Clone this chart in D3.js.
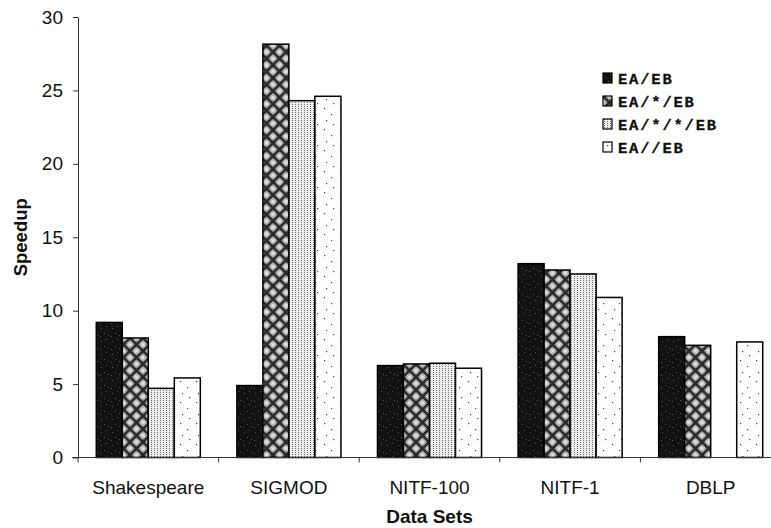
<!DOCTYPE html>
<html lang="en">
<head>
    <meta charset="UTF-8">
    <title>Speedup</title>
    <script src="https://cdnjs.cloudflare.com/ajax/libs/d3/7.8.5/d3.min.js"></script>
    <style>
        body { margin: 0; background: #fff; }
        svg { display: block; }
    </style>
</head>
<body>
    <svg width="771" height="528"></svg>
    <script>
        const categories = ['Shakespeare', 'SIGMOD', 'NITF-100', 'NITF-1', 'DBLP']
        const seriesNames = ['EA/EB', 'EA/*/EB', 'EA/*/*/EB', 'EA//EB']
        const eaEb = [9.2, 4.9, 6.26, 13.2, 8.23]
        const eaStarEb = [8.14, 28.15, 6.37, 12.77, 7.64]
        const eaStarStarEb = [4.71, 24.3, 6.42, 12.5, null]
        const eaDescEb = [5.42, 24.6, 6.08, 10.9, 7.87]
        const yTicks = [0, 5, 10, 15, 20, 25, 30]

        const seriesValues = [eaEb, eaStarEb, eaStarStarEb, eaDescEb]
        const fills = ['url(#p1)', 'url(#p2)', 'url(#p3)', 'url(#p4)']

        const svg = d3.select('svg')
        const mLeft = 78, mRight = 781, mTop = 17, mBottom = 457.5

        // fill patterns (scanned print look)
        const defs = svg.append('defs')
        const p1 = defs.append('pattern').attr('id', 'p1').attr('patternUnits', 'userSpaceOnUse')
            .attr('width', 11).attr('height', 13)
        p1.append('rect').attr('width', 11).attr('height', 13).attr('fill', '#121212')
        p1.selectAll('rect.d').data([[2, 3], [7, 1], [5, 8], [9, 10], [1, 11]]).join('rect')
            .attr('class', 'd').attr('x', d => d[0]).attr('y', d => d[1])
            .attr('width', 1).attr('height', 1).attr('fill', '#5a5a5a')

        const p2 = defs.append('pattern').attr('id', 'p2').attr('patternUnits', 'userSpaceOnUse')
            .attr('width', 13).attr('height', 13)
        const rg = defs.append('radialGradient').attr('id', 'blob')
        rg.append('stop').attr('offset', '0%').attr('stop-color', '#f2f2f2')
        rg.append('stop').attr('offset', '55%').attr('stop-color', '#b0b0b0')
        rg.append('stop').attr('offset', '100%').attr('stop-color', '#5c5c5c')
        p2.append('rect').attr('width', 13).attr('height', 13).attr('fill', '#5c5c5c')
        p2.selectAll('circle').data([[6.5, 0], [0, 6.5], [13, 6.5], [6.5, 13]]).join('circle')
            .attr('cx', d => d[0]).attr('cy', d => d[1]).attr('r', 5).attr('fill', 'url(#blob)')
        p2.append('path').attr('d', 'M0,0L13,13M13,0L0,13')
            .attr('stroke', '#222').attr('stroke-width', 2.4).attr('stroke-opacity', 0.85)

        const p3 = defs.append('pattern').attr('id', 'p3').attr('patternUnits', 'userSpaceOnUse')
            .attr('width', 3).attr('height', 2)
        p3.append('rect').attr('width', 3).attr('height', 2).attr('fill', '#eeeeee')
        p3.append('rect').attr('x', 1).attr('width', 1).attr('height', 1).attr('fill', '#6e6e6e')

        const p4 = defs.append('pattern').attr('id', 'p4').attr('patternUnits', 'userSpaceOnUse')
            .attr('width', 16).attr('height', 21)
        p4.append('rect').attr('width', 16).attr('height', 21).attr('fill', '#fdfdfd')
        p4.selectAll('rect.d').data([[4, 3], [11, 9], [6, 15], [13, 19]]).join('rect')
            .attr('class', 'd').attr('x', d => d[0]).attr('y', d => d[1])
            .attr('width', 1.2).attr('height', 1.2).attr('fill', '#444')

        const x0 = d3.scaleBand().domain(categories).range([mLeft, mRight])
            .paddingInner(0.26).paddingOuter(0.13)
        const x1 = d3.scaleBand().domain(d3.range(seriesNames.length)).range([0, x0.bandwidth()])
        const y = d3.scaleLinear().domain([0, 30]).range([mBottom, mTop])

        // bars
        svg.append('g')
            .selectAll('g')
            .data(seriesValues)
            .join('g')
            .attr('fill', (d, i) => fills[i])
            .selectAll('rect')
            .data((d, i) => d.map((v, j) => ({ v: v, s: i, c: categories[j] })).filter(e => e.v != null))
            .join('rect')
            .attr('x', d => x0(d.c) + x1(d.s))
            .attr('y', d => y(d.v))
            .attr('width', x1.bandwidth())
            .attr('height', d => y(0) - y(d.v))
            .attr('stroke', '#000')
            .attr('stroke-width', 1.5)

        // y axis
        const yAxis = svg.append('g')
            .attr('transform', 'translate(' + mLeft + ',0)')
            .call(d3.axisLeft(y).tickValues(yTicks).tickSize(5).tickPadding(10).tickSizeOuter(0))
        yAxis.select('.domain').attr('stroke', '#333')
        yAxis.selectAll('.tick line').attr('stroke', '#333')
        yAxis.selectAll('text').attr('font-family', 'Liberation Sans, Arial, sans-serif')
            .attr('font-size', 19).attr('fill', '#111')

        // x axis: ticks on category boundaries
        const bounds = categories.map(c => x0(c) - x0.step() * x0.paddingOuter())
        const xAxis = svg.append('g').attr('transform', 'translate(0,' + mBottom + ')')
        xAxis.append('line').attr('x1', mLeft - 6).attr('x2', mRight).attr('stroke', '#333')
        xAxis.selectAll('line.t').data(bounds).join('line').attr('class', 't')
            .attr('x1', d => d).attr('x2', d => d).attr('y1', 0).attr('y2', 5).attr('stroke', '#333')
        xAxis.selectAll('text').data(categories).join('text')
            .attr('x', d => x0(d) + x0.bandwidth() / 2)
            .attr('y', 36)
            .attr('text-anchor', 'middle')
            .attr('font-family', 'Liberation Sans, Arial, sans-serif')
            .attr('font-size', 19)
            .attr('fill', '#111')
            .text(d => d)

        // axis titles
        svg.append('text')
            .attr('x', (mLeft + mRight) / 2)
            .attr('y', 523)
            .attr('text-anchor', 'middle')
            .attr('font-family', 'Liberation Sans, Arial, sans-serif')
            .attr('font-weight', 'bold')
            .attr('font-size', 19)
            .attr('fill', '#111')
            .text('Data Sets')
        svg.append('text')
            .attr('transform', 'translate(27,' + (mTop + mBottom) / 2 + ') rotate(-90)')
            .attr('text-anchor', 'middle')
            .attr('font-family', 'Liberation Sans, Arial, sans-serif')
            .attr('font-weight', 'bold')
            .attr('font-size', 18.5)
            .attr('fill', '#111')
            .text('Speedup')

        // legend
        const legend = svg.append('g').attr('transform', 'translate(603,73)')
            .selectAll('g')
            .data(seriesNames)
            .join('g')
            .attr('transform', (d, i) => 'translate(0,' + i * 23 + ')')
        legend.append('rect')
            .attr('width', 9).attr('height', 10)
            .attr('fill', (d, i) => fills[i])
            .attr('stroke', '#000').attr('stroke-width', 1.2)
        legend.append('text')
            .attr('x', 15).attr('y', 10.5)
            .attr('font-family', 'Liberation Mono, Courier New, monospace')
            .attr('font-weight', 'bold')
            .attr('font-size', 15.5)
            .attr('letter-spacing', 1.8)
            .attr('fill', '#111')
            .attr('stroke', '#111')
            .attr('stroke-width', 0.3)
            .text(d => d)
    </script>
</body>
</html>
